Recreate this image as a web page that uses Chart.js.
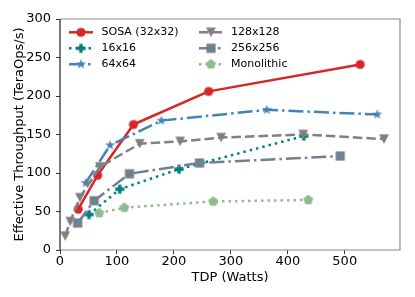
<!DOCTYPE html>
<html><head><meta charset="utf-8">
<script src="https://cdn.jsdelivr.net/npm/chart.js@4"></script>
<style>html,body{margin:0;padding:0;background:#fff;} canvas{display:block;}</style>
</head><body>
<canvas id="c" width="415" height="297"></canvas>
<script>
// ---- data ----
const seriesNames = ['SOSA (32x32)', '16x16', '64x64', '128x128', '256x256', 'Monolithic'];
const sosaX = [32, 66, 129, 261, 527];
const sosaY = [53, 97, 163, 206, 241];
const s16X = [51, 105, 209, 428];
const s16Y = [46, 79, 105, 148];
const s64X = [45, 88, 178, 363, 557];
const s64Y = [87, 136, 168, 182, 176];
const s128X = [9, 18, 35, 70, 140, 211, 283, 427, 569];
const s128Y = [18, 37, 68, 108, 138, 141, 146, 150, 144];
const s256X = [31, 60, 122, 245, 492];
const s256Y = [35, 64, 99, 113, 122];
const monoX = [69, 113, 269, 436];
const monoY = [48, 55, 63, 65];
const xTicks = [0, 100, 200, 300, 400, 500];
const yTicks = [0, 50, 100, 150, 200, 250, 300];
const xTitle = 'TDP (Watts)';
const yTitle = 'Effective Throughput (TeraOps/s)';

// ---- styles ----
const colors = ['#d62728', '#008080', '#4682b4', '#808080', '#708090', '#8fbc8f'];
const dashes = [[], [2.5, 4], [15, 4, 2.5, 4], [9.5, 4], [15, 4, 2.5, 4], [2.5, 4]];
const markers = ['circle', 'plus', 'star', 'tridown', 'square', 'pentagon'];
const LW = 2.5;
const FONT = 'DejaVu Sans';

function makeMarker(shape, color) {
  const S = 14;
  const c = document.createElement('canvas');
  c.width = S; c.height = S;
  const g = c.getContext('2d');
  g.translate(S / 2, S / 2);
  g.fillStyle = color;
  g.beginPath();
  if (shape === 'circle') {
    g.arc(0, 0, 4.6, 0, Math.PI * 2);
  } else if (shape === 'square') {
    g.rect(-4.6, -4.6, 9.2, 9.2);
  } else if (shape === 'tridown') {
    g.moveTo(0, 4.8); g.lineTo(-4.9, -4.8); g.lineTo(4.9, -4.8); g.closePath();
  } else if (shape === 'plus') {
    const a = 4.6, w = 1.7;
    g.moveTo(-w, -a); g.lineTo(w, -a); g.lineTo(w, -w); g.lineTo(a, -w); g.lineTo(a, w);
    g.lineTo(w, w); g.lineTo(w, a); g.lineTo(-w, a); g.lineTo(-w, w); g.lineTo(-a, w);
    g.lineTo(-a, -w); g.lineTo(-w, -w); g.closePath();
  } else if (shape === 'star') {
    const R = 5.3, r = R * 0.381966;
    for (let i = 0; i < 10; i++) {
      const rad = i % 2 === 0 ? R : r;
      const ang = -Math.PI / 2 + i * Math.PI / 5;
      const px = rad * Math.cos(ang), py = rad * Math.sin(ang);
      if (i === 0) g.moveTo(px, py); else g.lineTo(px, py);
    }
    g.closePath();
  } else if (shape === 'pentagon') {
    const R = 5.2;
    for (let i = 0; i < 5; i++) {
      const ang = -Math.PI / 2 + i * 2 * Math.PI / 5;
      const px = R * Math.cos(ang), py = R * Math.sin(ang);
      if (i === 0) g.moveTo(px, py); else g.lineTo(px, py);
    }
    g.closePath();
  }
  g.fill();
  return c;
}
const markerImgs = markers.map((m, i) => makeMarker(m, colors[i]));

const xs = [sosaX, s16X, s64X, s128X, s256X, monoX];
const ys = [sosaY, s16Y, s64Y, s128Y, s256Y, monoY];

const datasets = seriesNames.map((name, i) => ({
  label: name,
  data: xs[i].map((x, j) => ({ x: x, y: ys[i][j] })),
  borderColor: colors[i],
  backgroundColor: colors[i],
  borderWidth: LW,
  showLine: false,
  pointStyle: markerImgs[i],
  pointRadius: 5,
  order: 6 - i
}));

// Draws each series' connecting line (styled) from the point positions computed by the chart's scales
const seriesLinePlugin = {
  id: 'seriesLines',
  beforeDatasetDraw(chart, args) {
    const i = args.index;
    const pts = args.meta.data;
    if (!pts || pts.length < 2) return;
    const ctx = chart.ctx;
    const a = chart.chartArea;
    ctx.save();
    ctx.beginPath();
    ctx.rect(a.left, a.top, a.right - a.left, a.bottom - a.top);
    ctx.clip();
    ctx.strokeStyle = colors[i];
    ctx.lineWidth = LW;
    ctx.lineCap = 'butt';
    ctx.lineJoin = 'round';
    ctx.setLineDash(dashes[i].slice());
    ctx.lineDashOffset = 0;
    ctx.beginPath();
    pts.forEach((p, j) => { if (j === 0) ctx.moveTo(p.x, p.y); else ctx.lineTo(p.x, p.y); });
    ctx.stroke();
    ctx.restore();
  }
};

const framePlugin = {
  id: 'frame',
  afterDatasetsDraw(chart) {
    const { ctx, chartArea: a } = chart;
    ctx.save();
    ctx.setLineDash([]);
    ctx.lineWidth = 1.2;
    ctx.strokeStyle = '#8a8a8a';
    ctx.beginPath();
    ctx.moveTo(a.left, a.top); ctx.lineTo(a.right, a.top); ctx.lineTo(a.right, a.bottom); ctx.lineTo(a.left, a.bottom);
    ctx.stroke();
    ctx.strokeStyle = '#222';
    ctx.beginPath();
    ctx.moveTo(a.left, a.top); ctx.lineTo(a.left, a.bottom);
    ctx.stroke();
    ctx.restore();
  }
};

const legendPlugin = {
  id: 'customLegend',
  afterDraw(chart) {
    const ctx = chart.ctx;
    const a = chart.chartArea;
    const rows = [32.3, 48.3, 64.3];
    const cols = [{ h0: 69, h1: 93, t: 101.5 }, { h0: 199, h1: 223, t: 231 }];
    ctx.save();
    seriesNames.forEach((name, i) => {
      const col = cols[Math.floor(i / 3)];
      const y = rows[i % 3];
      ctx.strokeStyle = colors[i];
      ctx.lineWidth = LW;
      ctx.lineCap = 'butt';
      ctx.setLineDash(dashes[i].slice());
      ctx.beginPath();
      ctx.moveTo(col.h0, y); ctx.lineTo(col.h1, y);
      ctx.stroke();
      ctx.setLineDash([]);
      const img = markerImgs[i];
      ctx.drawImage(img, (col.h0 + col.h1) / 2 - img.width / 2, y - img.height / 2);
      ctx.fillStyle = '#000';
      ctx.font = '11px "' + FONT + '"';
      ctx.textBaseline = 'middle';
      ctx.textAlign = 'left';
      ctx.fillText(name, col.t, y);
    });
    ctx.font = '13px "' + FONT + '"';
    ctx.fillStyle = '#000';
    ctx.textAlign = 'center';
    ctx.textBaseline = 'middle';
    ctx.fillText(xTitle, (a.left + a.right) / 2, 278);
    ctx.translate(20, (a.top + a.bottom) / 2);
    ctx.rotate(-Math.PI / 2);
    ctx.fillText(yTitle, 0, 0);
    ctx.restore();
  }
};

new Chart(document.getElementById('c'), {
  type: 'line',
  data: { datasets: datasets },
  options: {
    responsive: false,
    devicePixelRatio: 1,
    animation: false,
    layout: { padding: { left: 0, right: 15, top: 19, bottom: 0 } },
    plugins: { legend: { display: false }, tooltip: { enabled: false } },
    scales: {
      x: {
        type: 'linear',
        min: 0,
        max: 597,
        afterBuildTicks: (s) => { s.ticks = xTicks.map(v => ({ value: v })); },
        afterFit: (s) => { s.height = 47; },
        border: { display: false },
        grid: { display: true, drawOnChartArea: false, drawTicks: true, tickLength: 4, tickColor: '#333', lineWidth: 1 },
        ticks: { color: '#000', font: { family: FONT, size: 13 }, padding: 0, maxRotation: 0 }
      },
      y: {
        min: 0,
        max: 300,
        afterBuildTicks: (s) => { s.ticks = yTicks.map(v => ({ value: v })); },
        afterFit: (s) => { s.width = 60; },
        border: { display: false },
        grid: { display: true, drawOnChartArea: false, drawTicks: true, tickLength: 4, tickColor: '#333', lineWidth: 1 },
        ticks: { color: '#000', font: { family: FONT, size: 13 }, padding: 5 }
      }
    }
  },
  plugins: [seriesLinePlugin, framePlugin, legendPlugin]
});
</script>
</body></html>
